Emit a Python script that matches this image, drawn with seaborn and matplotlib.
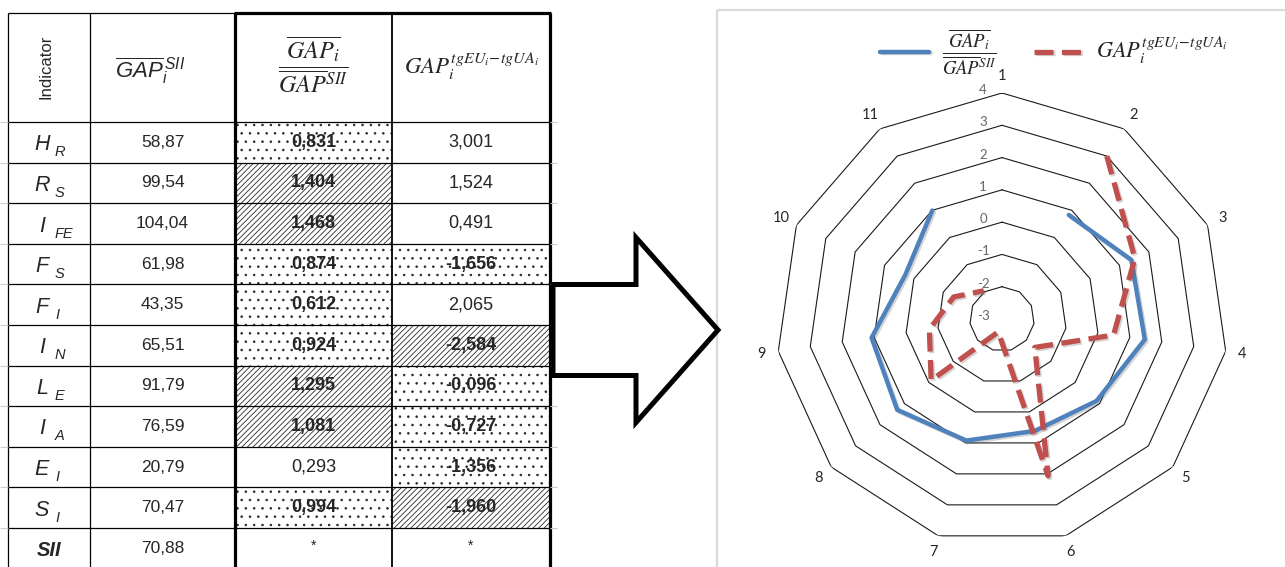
import matplotlib
matplotlib.use("Agg")
import matplotlib.pyplot as plt
import numpy as np
import seaborn as sns
from matplotlib import patheffects as pe
from matplotlib.font_manager import FontProperties
from matplotlib.patches import FancyArrow, Rectangle

# ---- table data ----
indicator_main = ["H", "R", "I", "F", "F", "I", "L", "I", "E", "S"]
indicator_sub = ["R", "S", "FE", "S", "I", "N", "E", "A", "I", "I"]
gap_sii = [58.87, 99.54, 104.04, 61.98, 43.35, 65.51, 91.79, 76.59, 20.79, 70.47]
gap_sii_total = 70.88
gap_ratio = [0.831, 1.404, 1.468, 0.874, 0.612, 0.924, 1.295, 1.081, 0.293, 0.994]
gap_tg = [3.001, 1.524, 0.491, -1.656, 2.065, -2.584, -0.096, -0.727, -1.356, -1.960]
ratio_fill = ["dots", "hatch", "hatch", "dots", "dots", "dots", "hatch", "hatch", None, "dots"]
tg_fill = [None, None, None, "dots", None, "hatch", "dots", "dots", "dots", "hatch"]

# ---- radar data ----
spoke_labels = [str(k) for k in range(1, 12)]
ring_levels = [-3, -2, -1, 0, 1, 2, 3, 4]

ratio_label = r"$\dfrac{\overline{GAP_i}}{\overline{GAP}^{SII}}$"
tg_label = r"$GAP_i^{tgEU_i\!-\!tgUA_i}$"

BLUE = "#4F81BD"
RED = "#C0504D"
HATCH = {"dots": "..", "hatch": "//////"}

sns.set_theme(style="white")
plt.rcParams["font.family"] = ["Liberation Sans", "DejaVu Sans"]
plt.rcParams["mathtext.it"] = "Liberation Sans:italic"
plt.rcParams["mathtext.rm"] = "Liberation Sans"
plt.rcParams["hatch.linewidth"] = 0.6


def fmt(v, nd):
    return f"{v:.{nd}f}".replace(".", ",")


W, H = 1285, 567
fig = plt.figure(figsize=(W / 100, H / 100), dpi=100)
ax = fig.add_axes([0, 0, 1, 1])
ax.set_xlim(0, W)
ax.set_ylim(H, 0)
ax.axis("off")

# ------------------------------------------------------------------ #
# table
# ------------------------------------------------------------------ #
col_x = [8, 90, 235, 392, 550]
top_y, head_y, row_h = 13, 122, 40.6
n_rows = len(gap_sii) + 1
row_y = [head_y + i * row_h for i in range(n_rows + 1)]

for col, fills in ((2, ratio_fill), (3, tg_fill)):
    for i, kind in enumerate(fills):
        if kind:
            ax.add_patch(Rectangle((col_x[col], row_y[i]), col_x[col + 1] - col_x[col], row_h,
                                   fill=False, hatch=HATCH[kind], edgecolor="#2a2a2a", lw=0))

# grid lines
ax.hlines([top_y] + row_y, col_x[0], col_x[-1], color="black", lw=0.9)
ax.vlines(col_x[:2], top_y, row_y[-1], color="black", lw=0.9)
ax.vlines(col_x[3], top_y, row_y[-1], color="black", lw=1.3)
ax.vlines([col_x[2], col_x[4]], top_y, row_y[-1], color="black", lw=2.3)
ax.hlines(top_y, col_x[2] - 1, col_x[4] + 1, color="black", lw=2.3)
# faint gridline stubs outside the table
ax.hlines(row_y, 0, col_x[0], color="#cccccc", lw=0.8)
ax.hlines(row_y, col_x[-1], col_x[-1] + 7, color="#cccccc", lw=0.8)

# header
ax.text(46, 67, "Indicator", rotation=90, ha="center", va="center", fontsize=12)
ax.text(150, 71, r"$\overline{GAP}_i^{\,SII}$", ha="center", va="center", fontsize=16,
        math_fontfamily="custom")
ax.text(313, 64, ratio_label, ha="center", va="center", fontsize=17.5, math_fontfamily="stix")
ax.text(472, 67, tg_label, ha="center", va="center", fontsize=16.5, math_fontfamily="stix")

# body
for i in range(n_rows):
    yc = row_y[i] + row_h / 2
    if i < len(gap_sii):
        ax.text(42, yc + 8, indicator_main[i], ha="center", va="baseline", fontsize=15.5, style="italic")
        ax.text(55, yc + 14, indicator_sub[i], ha="left", va="baseline", fontsize=10.5, style="italic")
        ax.text((col_x[1] + col_x[2]) / 2, yc, fmt(gap_sii[i], 2), ha="center", va="center", fontsize=12.5)
        ax.text((col_x[2] + col_x[3]) / 2, yc, fmt(gap_ratio[i], 3), ha="center", va="center",
                fontsize=13, weight="bold" if ratio_fill[i] else "normal")
        ax.text((col_x[3] + col_x[4]) / 2, yc, fmt(gap_tg[i], 3), ha="center", va="center",
                fontsize=13, weight="bold" if tg_fill[i] else "normal")
    else:
        ax.text(49, yc + 8, "SII", ha="center", va="baseline", fontsize=14.5, style="italic", weight="bold")
        ax.text((col_x[1] + col_x[2]) / 2, yc, fmt(gap_sii_total, 2), ha="center", va="center", fontsize=12.5)
        ax.text((col_x[2] + col_x[3]) / 2, yc - 3, "*", ha="center", va="center", fontsize=10)
        ax.text((col_x[3] + col_x[4]) / 2, yc - 3, "*", ha="center", va="center", fontsize=10)

# arrow
ax.add_patch(FancyArrow(553, 330, 165, 0, width=91, head_width=185, head_length=82,
                        length_includes_head=True, fc="white", ec="black", lw=3.6,
                        joinstyle="miter", zorder=5))

# chart area border
ax.add_patch(Rectangle((717, 10), 620, 620, fill=False, ec="#d9d9d9", lw=1.6))

# ------------------------------------------------------------------ #
# radar chart
# ------------------------------------------------------------------ #
cx, cy, R = 1002, 319, 226
axr = fig.add_axes([(cx - R) / W, (H - cy - R) / H, 2 * R / W, 2 * R / H], projection="polar")
axr.set_theta_offset(np.pi / 2)
axr.set_theta_direction(-1)
axr.set_facecolor("none")

theta = np.linspace(0, 2 * np.pi, len(spoke_labels) + 1)[:-1]
theta_closed = np.append(theta, theta[0])

for lvl in ring_levels[1:]:
    axr.plot(theta_closed, [lvl] * len(theta_closed), color="#1a1a1a", lw=0.8)

shadow = [pe.SimpleLineShadow(offset=(1.2, -1.2), alpha=0.25, shadow_color="#555555"), pe.Normal()]
sns.lineplot(x=theta[1:], y=gap_ratio, ax=axr, sort=False, estimator=None, color=BLUE, lw=3.2,
             label=ratio_label, path_effects=shadow)
sns.lineplot(x=theta[1:], y=gap_tg, ax=axr, sort=False, estimator=None, color=RED, lw=3.8,
             linestyle=(0, (3.6, 1.6)), label=tg_label, path_effects=shadow)

axr.set_ylim(ring_levels[0], ring_levels[-1])
axr.grid(False)
axr.set_xticks([])
axr.set_yticks([])
axr.set_xlabel("")
axr.set_ylabel("")
axr.spines["polar"].set_visible(False)

for lvl in ring_levels:
    axr.annotate(str(lvl), xy=(0, lvl), xytext=(-19, 3), textcoords="offset pixels",
                 ha="center", va="center", fontsize=9.5, color="#666666", family="Lato")

for t, lab in zip(theta, spoke_labels):
    axr.annotate(lab, xy=(t, ring_levels[-1]), xytext=(17 * np.sin(t), 17 * np.cos(t)),
                 textcoords="offset pixels", ha="center", va="center", fontsize=10.5, family="Lato",
                 annotation_clip=False)

handles, labels = axr.get_legend_handles_labels()
leg = axr.legend(handles, labels, ncol=2, loc="center", bbox_to_anchor=(1054 / W, 1 - 52 / H),
                 bbox_transform=fig.transFigure, frameon=False, handlelength=2.6, handletextpad=0.7,
                 columnspacing=2.0, prop=FontProperties(size=13.5, math_fontfamily="stix"))
leg.get_texts()[1].set_fontsize(16)

fig.savefig("out.png", dpi=100)
